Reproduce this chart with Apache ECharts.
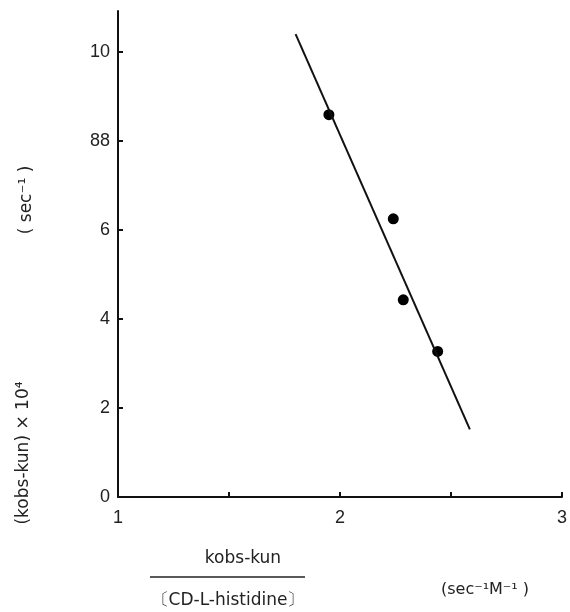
<!DOCTYPE html>
<html><head><meta charset="utf-8">
<script src="https://cdn.jsdelivr.net/npm/echarts@6/dist/echarts.min.js"></script>
<style>html,body{margin:0;padding:0;background:#fff}#c{width:570px;height:612px}</style>
</head><body><div id="c"></div>
<script>
// Data points
const pointsX = [1.95, 2.24, 2.285, 2.44];
const pointsY = [8.59, 6.25, 4.43, 3.27];
// Fitted straight line end points
const fitX = [1.80, 2.585];
const fitY = [10.40, 1.52];
// Axis ticks and labels
const xTickValues = [1, 1.5, 2, 2.5, 3];
const xLabelValues = [1, 2, 3];
const yTickValues = [0, 2, 4, 6, 8, 10];
const yTickLabels = ['0', '2', '4', '6', '88', '10'];

const FONT = 'Liberation Sans, DejaVu Sans, sans-serif';
const TFONT = '"DejaVu Sans", sans-serif';
const chart = echarts.init(document.getElementById('c'));
chart.setOption({
  animation: false,
  grid: {left: 118, right: 5, top: 11, bottom: 115},
  xAxis: {
    type: 'value', min: 1, max: 3,
    axisLine: {lineStyle: {color: '#111', width: 2}},
    splitLine: {show: false},
    axisTick: {inside: true, length: 5, lineStyle: {color: '#111', width: 2}, customValues: xTickValues},
    axisLabel: {customValues: xLabelValues, color: '#222', fontSize: 18, fontFamily: FONT, margin: 12,
      formatter: v => String(v)}
  },
  yAxis: {
    type: 'value', min: 0, max: 10.92,
    axisLine: {show: true, lineStyle: {color: '#111', width: 2}},
    splitLine: {show: false},
    axisTick: {show: true, inside: true, length: 5, lineStyle: {color: '#111', width: 2}, customValues: yTickValues},
    axisLabel: {customValues: yTickValues, color: '#222', fontSize: 18, fontFamily: FONT, margin: 8,
      formatter: v => yTickLabels[yTickValues.indexOf(v)]}
  },
  series: [
    {type: 'line', data: fitX.map((x, i) => [x, fitY[i]]), symbol: 'none',
      lineStyle: {color: '#111', width: 2}},
    {type: 'scatter', data: pointsX.map((x, i) => [x, pointsY[i]]), symbol: 'circle', symbolSize: 11,
      itemStyle: {color: '#000', opacity: 1}}
  ],
  graphic: [
    {type: 'text', x: 27, y: 200, rotation: Math.PI / 2, style: {text: '( sec⁻¹ )', fill: '#222', font: '17px ' + TFONT, align: 'center', verticalAlign: 'middle'}},
    {type: 'text', x: 24, y: 453, rotation: Math.PI / 2, style: {text: '(kobs-kun) × 10⁴', fill: '#222', font: '17px ' + TFONT, align: 'center', verticalAlign: 'middle'}},
    {type: 'text', x: 243, y: 559, style: {text: 'kobs-kun', fill: '#222', font: '17px ' + TFONT, align: 'center', verticalAlign: 'middle'}},
    {type: 'line', shape: {x1: 150, y1: 577, x2: 305, y2: 577}, style: {stroke: '#222', lineWidth: 1.5}},
    {type: 'text', x: 228, y: 601, style: {text: '〔CD-L-histidine〕', fill: '#222', font: '17px ' + TFONT, align: 'center', verticalAlign: 'middle'}},
    {type: 'text', x: 485, y: 590, style: {text: '(sec⁻¹M⁻¹ )', fill: '#222', font: '16px ' + TFONT, align: 'center', verticalAlign: 'middle'}}
  ]
});
</script></body></html>
